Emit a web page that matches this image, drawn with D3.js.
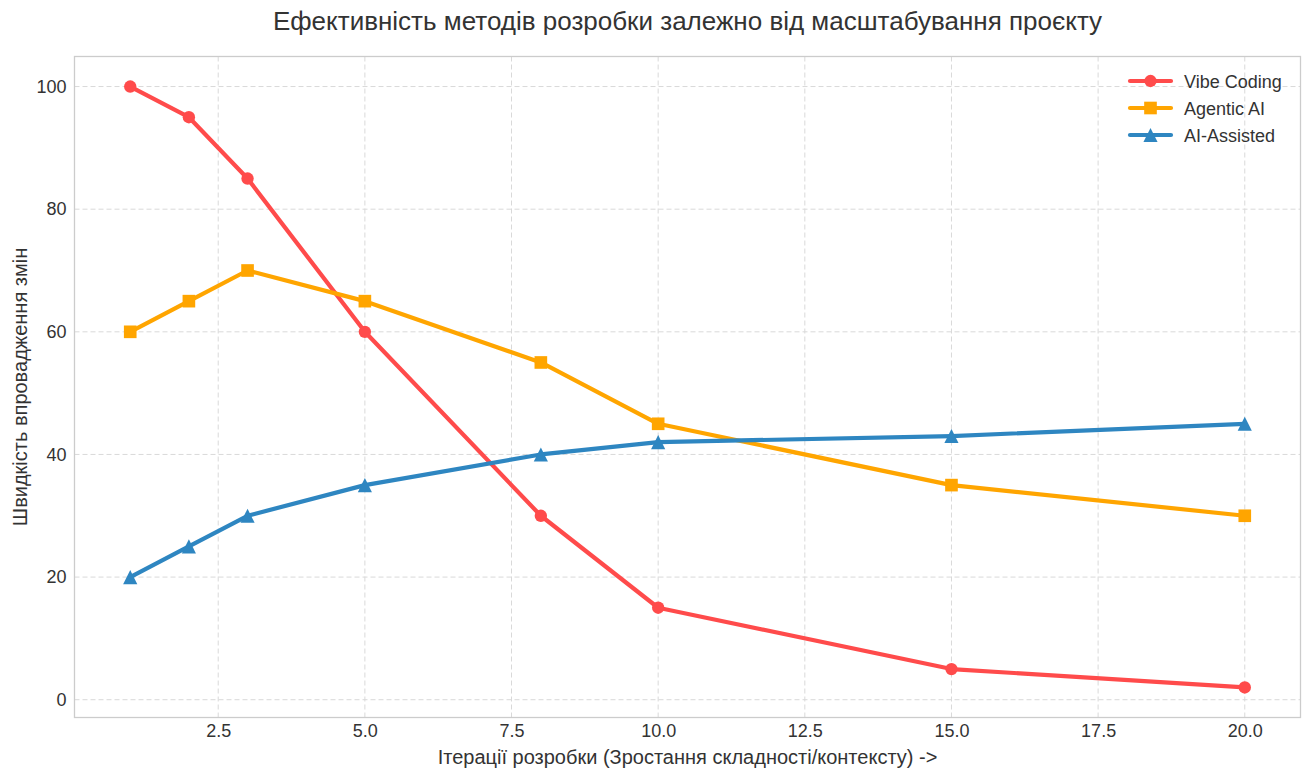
<!DOCTYPE html>
<html><head><meta charset="utf-8">
<script src="https://cdn.jsdelivr.net/npm/d3@7"></script>
<style>body{margin:0;background:#fff;font-family:"Liberation Sans",Arial,sans-serif;}</style>
</head><body><svg id="c" width="1306" height="771"></svg>
<script>
const iterations = [1, 2, 3, 5, 8, 10, 15, 20];
const vibeCoding = [100, 95, 85, 60, 30, 15, 5, 2];
const agenticAI = [60, 65, 70, 65, 55, 45, 35, 30];
const aiAssisted = [20, 25, 30, 35, 40, 42, 43, 45];
const xTicks = [2.5, 5.0, 7.5, 10.0, 12.5, 15.0, 17.5, 20.0];
const yTicks = [0, 20, 40, 60, 80, 100];
const seriesNames = ["Vibe Coding", "Agentic AI", "AI-Assisted"];
const colors = ["#FF4B4B", "#FFA500", "#2E86C1"];
const title = "Ефективність методів розробки залежно від масштабування проєкту";
const xLabel = "Ітерації розробки (Зростання складності/контексту) ->";
const yLabel = "Швидкість впровадження змін";

// matplotlib-like triangle: width == height, centred on its bounding box
const triUp = { draw(ctx, size) { const h = Math.sqrt(2 * size) / 2; ctx.moveTo(0, -h); ctx.lineTo(h, h); ctx.lineTo(-h, h); ctx.closePath(); } };
const symbols = [d3.symbolCircle, d3.symbolSquare, triUp];
const sizes = [120, 160, 100];

const svg = d3.select("#c");
const L = 74.5, R = 1300.5, T = 56.5, B = 717.5;
const x = d3.scaleLinear().domain([0.05, 20.95]).range([L, R]);
const y = d3.scaleLinear().domain([-2.9, 104.9]).range([B, T]);

// grid
const g = svg.append("g");
g.selectAll("line.vx").data(xTicks).join("line")
  .attr("x1", d => x(d)).attr("x2", d => x(d)).attr("y1", T).attr("y2", B)
  .attr("stroke", "#d9d9d9").attr("stroke-dasharray", "5,3").attr("stroke-width", 1);
g.selectAll("line.hy").data(yTicks).join("line")
  .attr("y1", d => y(d)).attr("y2", d => y(d)).attr("x1", L).attr("x2", R)
  .attr("stroke", "#d9d9d9").attr("stroke-dasharray", "5,3").attr("stroke-width", 1);

// axes
const xa = svg.append("g").attr("transform", `translate(0,${B})`)
  .call(d3.axisBottom(x).tickValues(xTicks).tickFormat(d3.format(".1f")).tickSize(0).tickPadding(7));
const ya = svg.append("g").attr("transform", `translate(${L},0)`)
  .call(d3.axisLeft(y).tickValues(yTicks).tickFormat(d3.format("d")).tickSize(0).tickPadding(8));
[xa, ya].forEach(a => {
  a.select(".domain").remove();
  a.selectAll("text").attr("font-size", 18).attr("fill", "#333").attr("font-family", "Liberation Sans, Arial, sans-serif");
});
svg.append("rect").attr("x", L).attr("y", T).attr("width", R - L).attr("height", B - T)
  .attr("fill", "none").attr("stroke", "#cccccc").attr("stroke-width", 1.3);

// series
const all = [vibeCoding, agenticAI, aiAssisted];
const line = d3.line().x((d, i) => x(iterations[i])).y(d => y(d));
all.forEach((s, k) => {
  svg.append("path").datum(s).attr("d", line).attr("fill", "none")
    .attr("stroke", colors[k]).attr("stroke-width", 4.2).attr("stroke-linejoin", "round").attr("stroke-linecap", "round");
  svg.selectAll(null).data(s).join("path")
    .attr("transform", (d, i) => `translate(${x(iterations[i])},${y(d)})`)
    .attr("d", d3.symbol().type(symbols[k]).size(sizes[k]))
    .attr("fill", colors[k]);
});

// legend
const lg = svg.append("g").attr("transform", "translate(1130,81)");
seriesNames.forEach((n, k) => {
  const r = lg.append("g").attr("transform", `translate(0,${k * 27})`);
  r.append("line").attr("x1", 0).attr("x2", 41).attr("stroke", colors[k]).attr("stroke-width", 4.2).attr("stroke-linecap", "round");
  r.append("path").attr("transform", `translate(20.5,0)`)
    .attr("d", d3.symbol().type(symbols[k]).size(sizes[k])).attr("fill", colors[k]);
  r.append("text").attr("x", 54).attr("y", 6.5).text(n).attr("font-size", 18).attr("fill", "#333");
});

// labels
svg.append("text").attr("x", (L + R) / 2).attr("y", 30).attr("text-anchor", "middle")
  .attr("font-size", 26).attr("fill", "#333").text(title);
svg.append("text").attr("x", (L + R) / 2).attr("y", 764).attr("text-anchor", "middle")
  .attr("font-size", 20).attr("fill", "#333").text(xLabel);
svg.append("text").attr("transform", `translate(27,${(T + B) / 2}) rotate(-90)`).attr("text-anchor", "middle")
  .attr("font-size", 20).attr("fill", "#333").text(yLabel);
</script></body></html>
